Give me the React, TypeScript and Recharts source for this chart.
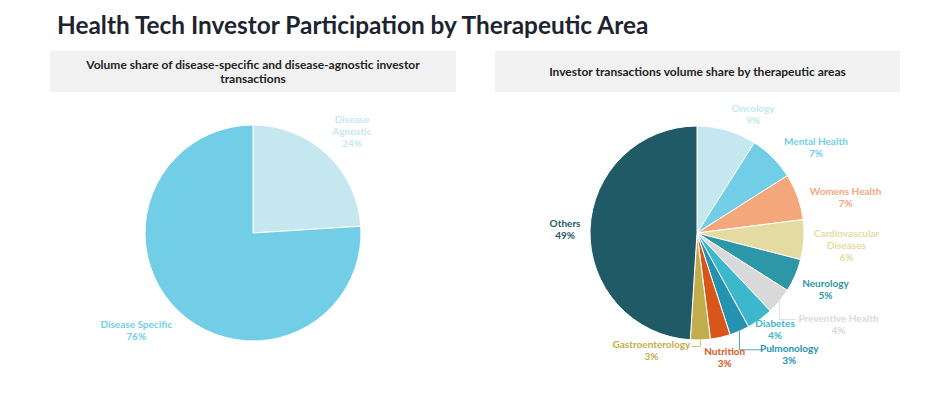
import React from 'react';
import { PieChart, Pie, Cell } from 'recharts';

// left chart: disease-specific vs disease-agnostic
const splitNames = ['Disease Agnostic', 'Disease Specific'];
const splitValues = [24, 76];
const splitColors = ['#c5e8f0', '#72cee6'];

// right chart: therapeutic areas
const areaNames = [
  'Oncology',
  'Mental Health',
  'Womens Health',
  'Cardiovascular Diseases',
  'Neurology',
  'Preventive Health',
  'Diabetes',
  'Pulmonology',
  'Nutrition',
  'Gastroenterology',
  'Others',
];
const areaValues = [9, 7, 7, 6, 5, 4, 4, 3, 3, 3, 49];
const areaColors = [
  '#c5e8f0',
  '#72cee6',
  '#f5a77c',
  '#e4dba2',
  '#2d97a8',
  '#d9d9d9',
  '#3db7cb',
  '#2592b0',
  '#d9561b',
  '#c2ad4c',
  '#1f5a66',
];

// label placement: distance from centre and angle nudge (degrees, clockwise)
const splitLabelDist = [142, 152];
const splitLabelShift = [1, 7];
const splitWrap = [true, false];
const splitLeader = [false, false];

const areaLabelDist = [132, 147, 153, 150, 140, 168, 124, 152, 127, 126, 132];
const areaLabelShift = [9, 9, 6, 1, 0, -7, -3, -14, 0, 23, 0];
const areaWrap = [false, false, false, true, false, false, false, false, false, false, false];
const areaLeader = [false, false, false, false, false, true, false, true, false, true, false];

const RAD = Math.PI / 180;
const FONT = 'Lato, "Open Sans", sans-serif';
const NO_MARGIN = { top: 0, right: 0, bottom: 0, left: 0 };

const makeLabel =
  (
    names: string[],
    values: number[],
    colors: string[],
    dist: number[],
    shift: number[],
    wrap: boolean[],
    leader: boolean[]
  ) =>
  (props: any) => {
    const { cx, cy, midAngle, outerRadius, index } = props;
    const total = values.reduce((s, v) => s + v, 0);
    const a = (midAngle - shift[index]) * RAD;
    const x = cx + dist[index] * Math.cos(a);
    const y = cy - dist[index] * Math.sin(a);
    const lines = wrap[index] ? names[index].split(' ') : [names[index]];
    lines.push(`${Math.round((values[index] / total) * 100)}%`);
    const lh = 12;
    const top = y - ((lines.length - 1) * lh) / 2;

    let line = null;
    if (leader[index]) {
      const ma = midAngle * RAD;
      const ex = cx + outerRadius * Math.cos(ma);
      const ey = cy - outerRadius * Math.sin(ma);
      const halfW = names[index].length * 2.5;
      const tx = x > ex ? x - halfW : x + halfW;
      line = (
        <polyline
          points={`${ex},${ey} ${ex},${top + 2} ${tx},${top + 2}`}
          fill="none"
          stroke={colors[index]}
          strokeWidth={0.8}
        />
      );
    }

    return (
      <g>
        {line}
        <text
          x={x}
          y={top}
          textAnchor="middle"
          dominantBaseline="central"
          fill={colors[index]}
          fontSize={10}
          fontWeight={700}
          fontFamily={FONT}
        >
          {lines.map((l, i) => (
            <tspan key={i} x={x} y={top + i * lh}>
              {l}
            </tspan>
          ))}
        </text>
      </g>
    );
  };

const boxStyle: React.CSSProperties = {
  position: 'absolute',
  top: 51,
  height: 41,
  background: '#f1f1f1',
  display: 'flex',
  alignItems: 'center',
  justifyContent: 'center',
  textAlign: 'center',
  fontFamily: FONT,
  fontWeight: 700,
  fontSize: 12,
  lineHeight: '14px',
  color: '#222',
};

export default function App() {
  const splitData = splitNames.map((name, i) => ({ name, value: splitValues[i] }));
  const areaData = areaNames.map((name, i) => ({ name, value: areaValues[i] }));

  return (
    <div
      style={{
        position: 'absolute',
        left: 0,
        top: 0,
        width: 949,
        height: 395,
        background: '#fff',
        fontFamily: FONT,
      }}
    >
      <div
        style={{
          position: 'absolute',
          left: 57,
          top: 10,
          fontSize: 24.4,
          fontWeight: 700,
          color: '#1d2430',
          whiteSpace: 'nowrap',
        }}
      >
        Health Tech Investor Participation by Therapeutic Area
      </div>

      <div style={{ ...boxStyle, left: 50, width: 406 }}>
        <div style={{ width: 360 }}>
          Volume share of disease-specific and disease-agnostic investor transactions
        </div>
      </div>
      <div style={{ ...boxStyle, left: 495, width: 405 }}>
        Investor transactions volume share by therapeutic areas
      </div>

      <div style={{ position: 'absolute', left: 50, top: 95 }}>
        <PieChart width={406} height={290} margin={NO_MARGIN}>
          <Pie
            data={splitData}
            dataKey="value"
            nameKey="name"
            cx={203}
            cy={138}
            outerRadius={108}
            startAngle={90}
            endAngle={-270}
            stroke="#ffffff"
            strokeWidth={1}
            labelLine={false}
            label={makeLabel(
              splitNames,
              splitValues,
              splitColors,
              splitLabelDist,
              splitLabelShift,
              splitWrap,
              splitLeader
            )}
            isAnimationActive={false}
          >
            {splitData.map((d, i) => (
              <Cell key={d.name} fill={splitColors[i]} />
            ))}
          </Pie>
        </PieChart>
      </div>

      <div style={{ position: 'absolute', left: 495, top: 95 }}>
        <PieChart width={405} height={290} margin={NO_MARGIN}>
          <Pie
            data={areaData}
            dataKey="value"
            nameKey="name"
            cx={202}
            cy={138}
            outerRadius={107}
            startAngle={90}
            endAngle={-270}
            stroke="#ffffff"
            strokeWidth={1}
            labelLine={false}
            label={makeLabel(
              areaNames,
              areaValues,
              areaColors,
              areaLabelDist,
              areaLabelShift,
              areaWrap,
              areaLeader
            )}
            isAnimationActive={false}
          >
            {areaData.map((d, i) => (
              <Cell key={d.name} fill={areaColors[i]} />
            ))}
          </Pie>
        </PieChart>
      </div>
    </div>
  );
}
